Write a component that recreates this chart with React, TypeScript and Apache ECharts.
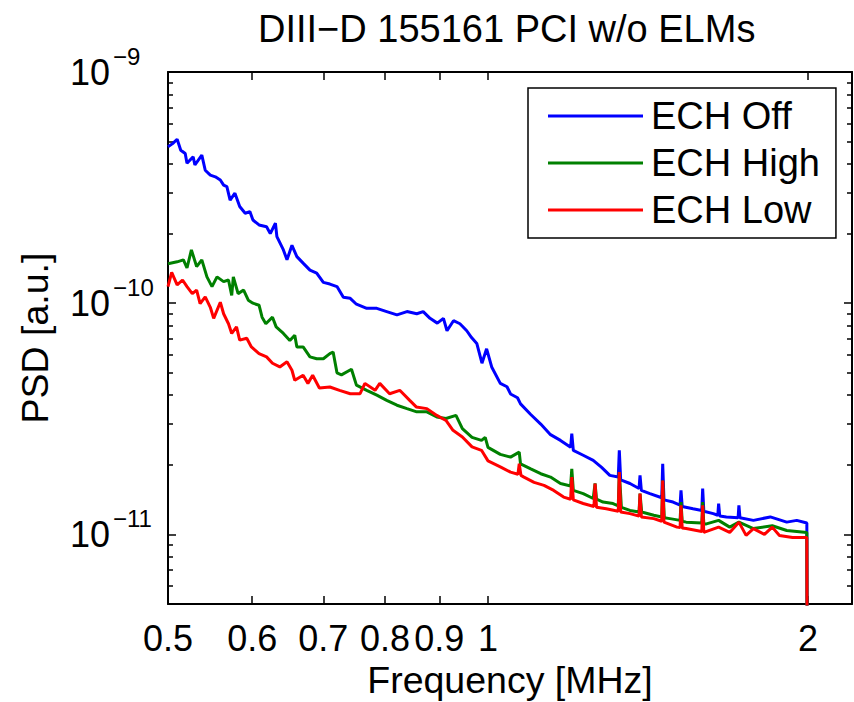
import { useEffect, useRef } from 'react';
import * as echarts from 'echarts';

const TITLE = 'DIII\u2212D 155161 PCI w/o ELMs';
const X_NAME = 'Frequency [MHz]';
const Y_NAME = 'PSD [a.u.]';
const SERIES_NAMES = ['ECH Off', 'ECH High', 'ECH Low'];
const X_TICKS = [0.5, 0.6, 0.7, 0.8, 0.9, 1, 2];
const Y_MAJOR = [1e-11, 1e-10, 1e-9];
const Y_MINOR = [
  6e-12, 7e-12, 8e-12, 9e-12,
  2e-11, 3e-11, 4e-11, 5e-11, 6e-11, 7e-11, 8e-11, 9e-11,
  2e-10, 3e-10, 4e-10, 5e-10, 6e-10, 7e-10, 8e-10, 9e-10,
];
const X_RANGE = [0.5, 2.2];
const Y_RANGE = [5e-12, 1e-9];
const PSD_UNIT = 1e-11; // values below are in units of 1e-11

// [frequency MHz, PSD / 1e-11]
const ECH_OFF: [number, number][] = [
  [0.500, 47.5], [0.505, 49.0], [0.510, 51.2], [0.514, 45.9], [0.519, 44.4], [0.521, 40.3], [0.528, 43.0], [0.530, 39.6],
  [0.538, 43.7], [0.542, 37.6], [0.548, 35.8], [0.554, 35.2], [0.560, 34.1], [0.564, 32.4], [0.568, 31.9],
  [0.572, 27.9], [0.578, 29.9], [0.584, 26.2], [0.591, 24.5], [0.597, 24.9], [0.601, 22.9], [0.609, 21.8],
  [0.619, 21.4], [0.624, 20.0], [0.631, 22.2], [0.633, 19.4], [0.642, 17.0], [0.647, 15.4], [0.654, 17.8],
  [0.661, 15.9], [0.670, 14.9], [0.680, 13.9], [0.690, 13.5], [0.700, 12.3], [0.710, 12.1], [0.721, 11.8],
  [0.731, 10.6], [0.742, 10.5], [0.752, 9.9], [0.769, 9.5], [0.786, 9.5], [0.803, 9.2], [0.821, 8.9],
  [0.839, 9.2], [0.857, 9.0], [0.869, 9.2], [0.882, 8.6], [0.896, 8.2], [0.908, 8.6], [0.915, 7.6],
  [0.928, 8.4], [0.941, 8.15], [0.955, 7.6], [0.965, 7.1], [0.976, 6.7], [0.987, 5.5], [0.997, 6.35],
  [1.008, 5.3], [1.027, 4.5], [1.042, 4.35], [1.050, 4.05], [1.066, 3.9], [1.073, 3.67], [1.097, 3.3],
  [1.121, 3.0], [1.145, 2.7], [1.170, 2.55], [1.196, 2.38], [1.199, 2.73], [1.203, 2.31], [1.229, 2.2],
  [1.256, 2.09], [1.279, 1.95], [1.302, 1.80], [1.326, 1.77], [1.329, 2.31], [1.333, 1.72], [1.360, 1.66],
  [1.387, 1.58], [1.390, 1.80], [1.394, 1.55], [1.420, 1.50], [1.457, 1.44], [1.460, 2.02], [1.464, 1.41],
  [1.493, 1.38], [1.516, 1.34], [1.519, 1.55], [1.523, 1.32], [1.559, 1.29], [1.589, 1.27], [1.592, 1.58],
  [1.596, 1.26], [1.629, 1.23], [1.645, 1.21], [1.648, 1.36], [1.652, 1.20], [1.676, 1.19], [1.719, 1.18],
  [1.722, 1.335], [1.726, 1.18], [1.777, 1.15], [1.843, 1.19], [1.910, 1.13], [1.952, 1.15], [1.995, 1.12],
  [2.000, 0.01],
];

const ECH_HIGH: [number, number][] = [
  [0.500, 14.8], [0.510, 15.1], [0.517, 15.4], [0.521, 14.2], [0.526, 17.0], [0.532, 14.4], [0.538, 15.4],
  [0.544, 13.0], [0.550, 11.8], [0.556, 13.0], [0.564, 12.4], [0.570, 12.6], [0.574, 10.8], [0.576, 13.0],
  [0.582, 11.0], [0.589, 11.4], [0.595, 10.3], [0.601, 10.0], [0.609, 9.8], [0.613, 8.7], [0.618, 8.15],
  [0.627, 8.7], [0.632, 7.9], [0.642, 7.4], [0.651, 6.9], [0.658, 7.27], [0.661, 6.47], [0.670, 6.47],
  [0.680, 5.86], [0.690, 5.75], [0.700, 5.75], [0.710, 6.05], [0.715, 6.15], [0.721, 5.0], [0.728, 4.9],
  [0.744, 5.18], [0.752, 4.42], [0.769, 4.2], [0.786, 4.0], [0.803, 3.8], [0.821, 3.62], [0.839, 3.5],
  [0.857, 3.39], [0.876, 3.39], [0.895, 3.22], [0.913, 3.17], [0.933, 3.27], [0.946, 2.87], [0.966, 2.63],
  [0.986, 2.55], [0.994, 2.63], [1.000, 2.38], [1.027, 2.22], [1.050, 2.16], [1.070, 2.27], [1.073, 2.02],
  [1.097, 1.92], [1.121, 1.83], [1.145, 1.77], [1.170, 1.66], [1.196, 1.62], [1.199, 1.92], [1.203, 1.55],
  [1.229, 1.50], [1.256, 1.43], [1.261, 1.66], [1.265, 1.42], [1.283, 1.38], [1.311, 1.36], [1.326, 1.33],
  [1.329, 1.86], [1.335, 1.31], [1.360, 1.27], [1.387, 1.25], [1.390, 1.50], [1.395, 1.25], [1.432, 1.21],
  [1.457, 1.19], [1.460, 1.71], [1.465, 1.18], [1.483, 1.17], [1.516, 1.15], [1.519, 1.38], [1.523, 1.14],
  [1.536, 1.13], [1.589, 1.12], [1.592, 1.38], [1.596, 1.11], [1.605, 1.11], [1.648, 1.15], [1.688, 1.075],
  [1.722, 1.13], [1.777, 1.06], [1.851, 1.09], [1.910, 1.04], [1.995, 1.02], [2.000, 0.01],
];

const ECH_LOW: [number, number][] = [
  [0.500, 11.8], [0.504, 13.6], [0.510, 12.0], [0.516, 12.6], [0.521, 11.8], [0.527, 11.0], [0.532, 11.4],
  [0.536, 9.95], [0.542, 10.65], [0.548, 9.6], [0.552, 8.6], [0.560, 10.1], [0.564, 9.0], [0.570, 8.15],
  [0.574, 7.4], [0.580, 7.9], [0.584, 6.92], [0.593, 7.05], [0.599, 6.47], [0.609, 6.05], [0.619, 5.86],
  [0.627, 5.5], [0.637, 5.3], [0.647, 5.58], [0.654, 5.13], [0.658, 4.64], [0.670, 4.88], [0.677, 4.5],
  [0.684, 4.88], [0.694, 4.3], [0.710, 4.34], [0.725, 4.2], [0.742, 4.06], [0.758, 4.06], [0.766, 4.5],
  [0.783, 4.2], [0.791, 4.5], [0.808, 4.06], [0.826, 4.2], [0.844, 3.8], [0.856, 3.56], [0.876, 3.5],
  [0.895, 3.27], [0.913, 3.11], [0.927, 2.82], [0.946, 2.64], [0.966, 2.39], [0.986, 2.31], [1.000, 2.08],
  [1.027, 1.96], [1.050, 1.86], [1.067, 1.82], [1.070, 2.02], [1.074, 1.80], [1.081, 1.77], [1.105, 1.68],
  [1.129, 1.63], [1.153, 1.55], [1.178, 1.45], [1.196, 1.42], [1.199, 1.77], [1.203, 1.41], [1.229, 1.36],
  [1.258, 1.32], [1.261, 1.66], [1.265, 1.31], [1.292, 1.29], [1.326, 1.26], [1.329, 1.86], [1.333, 1.25],
  [1.360, 1.23], [1.387, 1.20], [1.390, 1.50], [1.394, 1.19], [1.432, 1.17], [1.457, 1.14], [1.460, 1.71],
  [1.464, 1.13], [1.506, 1.075], [1.516, 1.07], [1.519, 1.335], [1.523, 1.065], [1.536, 1.06], [1.589, 1.03],
  [1.592, 1.335], [1.596, 1.02], [1.648, 1.075], [1.688, 1.02], [1.722, 1.13], [1.749, 0.99], [1.777, 1.06],
  [1.820, 1.00], [1.851, 1.075], [1.880, 0.99], [1.934, 0.97], [1.995, 0.97], [2.000, 0.01],
];

const SERIES_DATA = [ECH_OFF, ECH_HIGH, ECH_LOW];
const SERIES_COLORS = ['#0000ff', '#008000', '#ff0000'];

const FONT = '"Liberation Sans", Arial, Helvetica, sans-serif';
const BLACK = '#000000';

function fmtX(v: number): string {
  return String(parseFloat(Number(v).toPrecision(3)));
}

function fmtY(v: number): string {
  const e = v > 0 ? Math.round(Math.log10(v)) : Math.round(v);
  return `{b|10}{s|\u2212${Math.abs(e)}}`;
}

export default function App() {
  const ref = useRef<HTMLDivElement>(null);

  useEffect(() => {
    document.body.style.margin = '0';
    if (!ref.current) return;
    const chart = echarts.init(ref.current, undefined, { renderer: 'svg' });

    const axisLine = { show: true, onZero: false, lineStyle: { color: BLACK, width: 2 } };
    const xBase: any = {
      type: 'log',
      logBase: 10,
      min: X_RANGE[0],
      max: X_RANGE[1],
      splitLine: { show: false },
      minorTick: { show: false },
      minorSplitLine: { show: false },
      axisLine,
      axisTick: { show: true, inside: true, length: 8, customValues: X_TICKS, lineStyle: { color: BLACK, width: 1.5 } },
    };
    const yBase: any = {
      type: 'log',
      logBase: 10,
      min: Y_RANGE[0],
      max: Y_RANGE[1],
      splitLine: { show: false },
      minorTick: { show: false },
      minorSplitLine: { show: false },
    };
    const majorTickY = { show: true, inside: true, length: 8, customValues: Y_MAJOR, lineStyle: { color: BLACK, width: 1.5 } };
    const minorTickY = { show: true, inside: true, length: 5, customValues: Y_MINOR, lineStyle: { color: BLACK, width: 1.5 } };

    chart.setOption({
      animation: false,
      backgroundColor: '#ffffff',
      title: {
        text: TITLE,
        left: 258,
        top: 10,
        padding: 0,
        textStyle: { fontSize: 38, fontWeight: 'normal', color: BLACK, fontFamily: FONT },
      },
      legend: {
        orient: 'vertical',
        left: 528,
        top: 88,
        padding: [8, 16, 8, 20],
        itemGap: 7,
        itemWidth: 95,
        itemHeight: 3,
        icon: 'rect',
        selectedMode: false,
        backgroundColor: '#ffffff',
        borderColor: BLACK,
        borderWidth: 1.5,
        data: SERIES_NAMES,
        textStyle: { fontSize: 38, lineHeight: 40, color: BLACK, fontFamily: FONT, padding: [0, 0, 0, 3] },
      },
      grid: { left: 168, right: 2, top: 72, bottom: 98, containLabel: false, outerBoundsMode: 'none' },
      xAxis: [
        {
          ...xBase,
          position: 'bottom',
          name: X_NAME,
          nameLocation: 'middle',
          nameGap: 57,
          nameTextStyle: { fontSize: 37.5, color: BLACK, fontFamily: FONT },
          axisLabel: {
            show: true,
            customValues: X_TICKS,
            formatter: fmtX,
            fontSize: 36,
            color: BLACK,
            fontFamily: FONT,
            margin: 16,
          },
        },
        { ...xBase, position: 'top', axisLabel: { show: false } },
      ],
      yAxis: [
        {
          ...yBase,
          position: 'left',
          axisLine,
          axisTick: majorTickY,
          name: Y_NAME,
          nameLocation: 'middle',
          nameGap: 114,
          nameTextStyle: { fontSize: 37.5, color: BLACK, fontFamily: FONT },
          axisLabel: {
            show: true,
            customValues: Y_MAJOR,
            formatter: fmtY,
            align: 'left',
            margin: 98,
            color: BLACK,
            fontFamily: FONT,
            rich: {
              b: { fontSize: 36, lineHeight: 56, color: BLACK, fontFamily: FONT },
              s: { fontSize: 24, lineHeight: 24, verticalAlign: 'top', color: BLACK, fontFamily: FONT, padding: [0, 0, 0, 3] },
            },
          },
        },
        { ...yBase, position: 'left', axisLine: { show: false }, axisTick: minorTickY, axisLabel: { show: false } },
        { ...yBase, position: 'right', axisLine, axisTick: majorTickY, axisLabel: { show: false } },
        { ...yBase, position: 'right', axisLine: { show: false }, axisTick: minorTickY, axisLabel: { show: false } },
      ],
      series: SERIES_DATA.map((d, i) => ({
        type: 'line',
        name: SERIES_NAMES[i],
        xAxisIndex: 0,
        yAxisIndex: 0,
        data: d.map(([f, p]) => [f, p * PSD_UNIT]),
        showSymbol: false,
        symbol: 'none',
        clip: true,
        silent: true,
        z: 2 + i,
        lineStyle: { color: SERIES_COLORS[i], width: 3 },
        itemStyle: { color: SERIES_COLORS[i] },
        emphasis: { disabled: true },
      })),
    });

    return () => chart.dispose();
  }, []);

  return <div ref={ref} style={{ position: 'absolute', left: 0, top: 0, width: 854, height: 702 }} />;
}
